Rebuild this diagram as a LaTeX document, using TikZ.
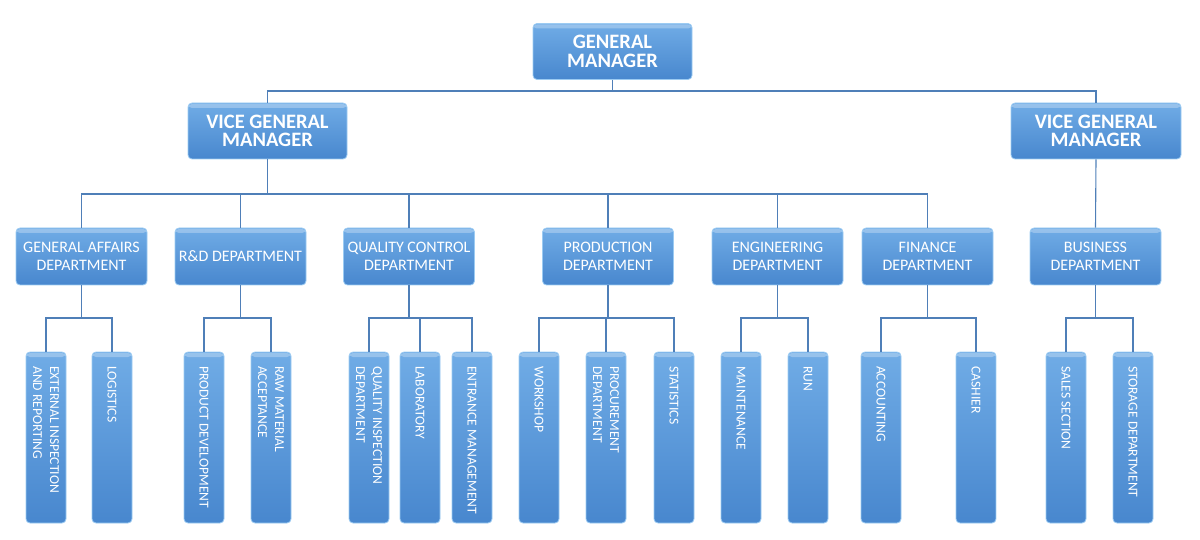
\documentclass[tikz,border=0pt]{standalone}
\usepackage{fontspec}
\setmainfont{Carlito}
\definecolor{boxtop}{HTML}{70ACE6}
\definecolor{boxbot}{HTML}{4887CE}
\definecolor{boxedge}{HTML}{9CCBF2}
\definecolor{conncol}{HTML}{4F7FB8}
\tikzset{
  box/.style={rounded corners=4pt, draw=boxedge, line width=0.8pt,
    top color=boxtop, bottom color=boxbot, text=white, inner sep=0pt, align=center,
    path picture={\fill[white,opacity=0.28] ([yshift=-1pt]path picture bounding box.north west) rectangle ([yshift=-5pt]path picture bounding box.north east);}},
  topbox/.style={box, minimum height=56pt, font=\bfseries\fontsize{20.5}{18.5}\selectfont},
  midbox/.style={box, minimum width=131pt, minimum height=57pt, font=\fontsize{16}{18.5}\selectfont},
  leafbox/.style={box, minimum width=40pt, minimum height=171pt},
  leaftext/.style={rotate=-90, anchor=west, inner sep=0pt, text=white, align=left, font=\fontsize{13.6}{17}\selectfont},
  conn/.style={draw=conncol, line width=1.1pt}
}
\begin{document}
\begin{tikzpicture}[x=1pt, y=-1pt]
\useasboundingbox (0,0) rectangle (1200,540);
\coordinate (busA) at (0,91);
\coordinate (busB) at (0,194);
\coordinate (busC) at (0,318);
% top levels
\node[topbox, minimum width=159pt] (gm) at (612.5,51.5) {GENERAL\\MANAGER};
\node[topbox, minimum width=159pt] (vgml) at (267.5,131) {VICE GENERAL\\MANAGER};
\node[topbox, minimum width=170pt] (vgmr) at (1096,131) {VICE GENERAL\\MANAGER};
% departments
\node[midbox] (ga) at (81.5,256.5) {GENERAL AFFAIRS\\DEPARTMENT};
\node[midbox] (rd) at (240.5,256.5) {R\&D DEPARTMENT};
\node[midbox] (qc) at (409,256.5) {QUALITY CONTROL\\DEPARTMENT};
\node[midbox] (pd) at (608,256.5) {PRODUCTION\\DEPARTMENT};
\node[midbox] (en) at (777.5,256.5) {ENGINEERING\\DEPARTMENT};
\node[midbox] (fi) at (927.5,256.5) {FINANCE\\DEPARTMENT};
\node[midbox] (bu) at (1095.5,256.5) {BUSINESS\\DEPARTMENT};
% leaves
\foreach \n/\x/\t in {
  l1/46/{EXTERNAL INSPECTION\\AND REPORTING},
  l2/112/{LOGISTICS},
  l3/204/{PRODUCT DEVELOPMENT},
  l4/271/{RAW MATERIAL\\ACCEPTANCE},
  l5/369/{QUALITY INSPECTION\\DEPARTMENT},
  l6/420/{LABORATORY},
  l7/472/{ENTRANCE MANAGEMENT},
  l8/539/{WORKSHOP},
  l9/606/{PROCUREMENT\\DEPARTMENT},
  l10/674/{STATISTICS},
  l11/741/{MAINTENANCE},
  l12/808/{RUN},
  l13/881/{ACCOUNTING},
  l14/976/{CASHIER},
  l15/1066/{SALES SECTION},
  l16/1133/{STORAGE DEPARTMENT}}{
  \node[leafbox] (\n) at (\x,437.5) {};
  \node[leaftext] (\n t) at (\x,366) {\t};
}
% connectors
\draw[conn] (gm.south) -- (gm.south |- busA) -| (vgml.north);
\draw[conn] (gm.south |- busA) -| (vgmr.north);
\draw[conn] (vgml.south) -- (vgml.south |- busB) -| (ga.north);
\foreach \d in {rd,qc,pd,en,fi}{
  \draw[conn] (vgml.south |- busB) -| (\d.north);
}
\draw[conn] (vgmr.south) -- (bu.north);
\foreach \p/\c in {ga/l1,ga/l2,rd/l3,rd/l4,qc/l5,qc/l6,qc/l7,pd/l8,pd/l9,pd/l10,en/l11,en/l12,fi/l13,fi/l14,bu/l15,bu/l16}{
  \draw[conn] (\p.south) -- (\p.south |- busC) -| (\c.north);
}
\end{tikzpicture}
\end{document}
